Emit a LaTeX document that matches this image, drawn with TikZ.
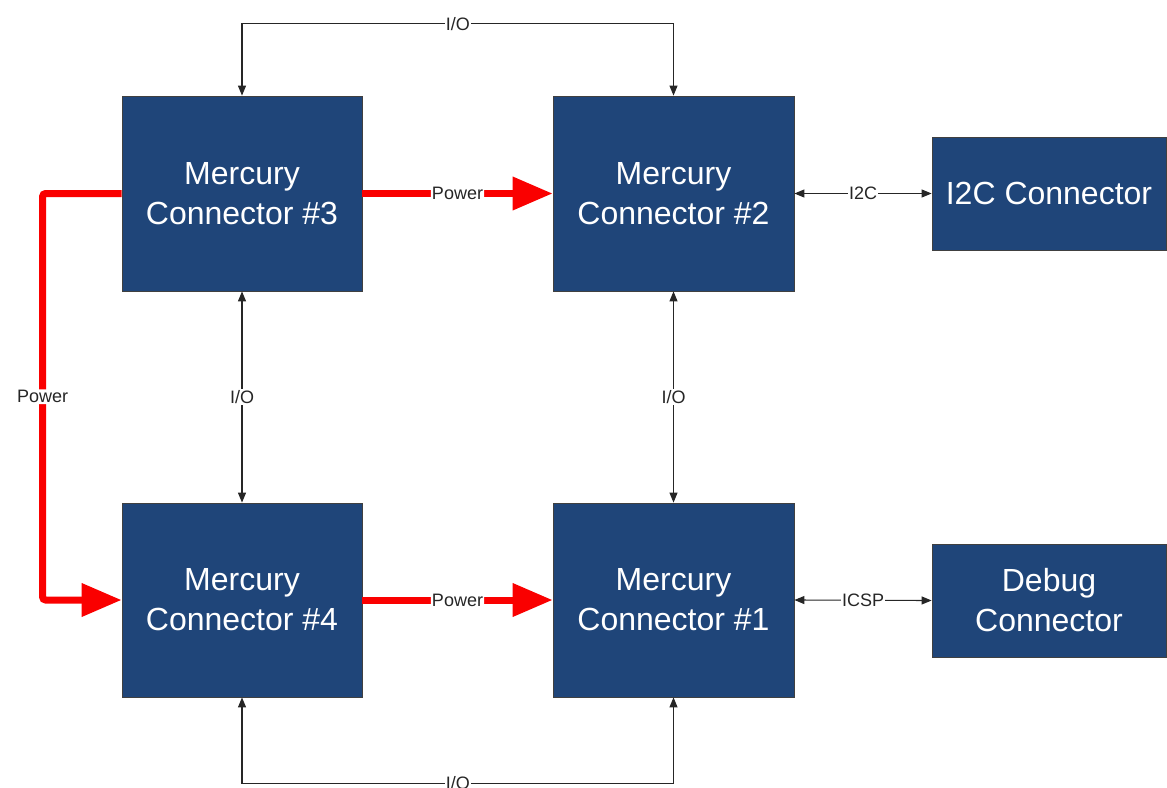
\documentclass[tikz,border=0pt]{standalone}
\usepackage{fontspec}
\setmainfont{Liberation Sans}
\usetikzlibrary{arrows.meta}
\definecolor{mercblue}{RGB}{31,69,121}
\definecolor{pwrred}{RGB}{250,0,0}
\tikzset{
	mbox/.style={draw=black!75, line width=0.8pt, fill=mercblue, text=white, align=center,
		inner sep=0pt, font=\fontsize{32}{40}\selectfont},
	io/.style={line width=1.1pt, color=black!85, {Triangle[length=10pt,width=8pt]}-{Triangle[length=10pt,width=8pt]}},
	pwr/.style={line width=7pt, color=pwrred, rounded corners=3pt, -{Triangle[length=40pt,width=32pt]}},
	lbl/.style={fill=white, inner sep=1pt, text=black!85, font=\fontsize{18}{20}\selectfont}
}
\begin{document}
\begin{tikzpicture}[x=1pt, y=-1pt]
		%%%%% START %%%%%
		\useasboundingbox (0, 0) rectangle (1167, 787);
		
		\node[mbox, minimum width=240, minimum height=195] (m3) at (242, 193.5) {Mercury\\Connector \#3};
		\node[mbox, minimum width=241, minimum height=195] (m2) at (673.5, 193.5) {Mercury\\Connector \#2};
		\node[mbox, minimum width=240, minimum height=194] (m4) at (242, 600) {Mercury\\Connector \#4};
		\node[mbox, minimum width=241, minimum height=194] (m1) at (673.5, 600) {Mercury\\Connector \#1};
		
		\node[mbox, minimum width=234, minimum height=113] (i2c) at (1049, 193.5) {I2C Connector};
		\node[mbox, minimum width=234, minimum height=113] (dbg) at (1049, 600.5) {Debug\\Connector};
		
		\draw[io] (m3.north) -- ++(0, -72) -| node[lbl, pos=0.25] {I/O} (m2.north);
		\draw[io] (m4.south) -- ++(0, 86) -| node[lbl, pos=0.25] {I/O} (m1.south);
		\draw[io] (m3.south) -- node[lbl] {I/O} (m4.north);
		\draw[io] (m2.south) -- node[lbl] {I/O} (m1.north);
		
		\draw[io] (m2.east) -- node[lbl] {I2C} (i2c.west);
		\draw[io] (m1.east) -- node[lbl] {ICSP} (dbg.west);
		
		\draw[pwr] (m3.east) -- node[lbl] {Power} (m2.west);
		\draw[pwr] (m4.east) -- node[lbl] {Power} (m1.west);
		\draw[pwr] (m3.west) -- ++(-79, 0) |- node[lbl, pos=0.25] {Power} (m4.west);
		
		%%%%% END %%%%%
\end{tikzpicture}
\end{document}
